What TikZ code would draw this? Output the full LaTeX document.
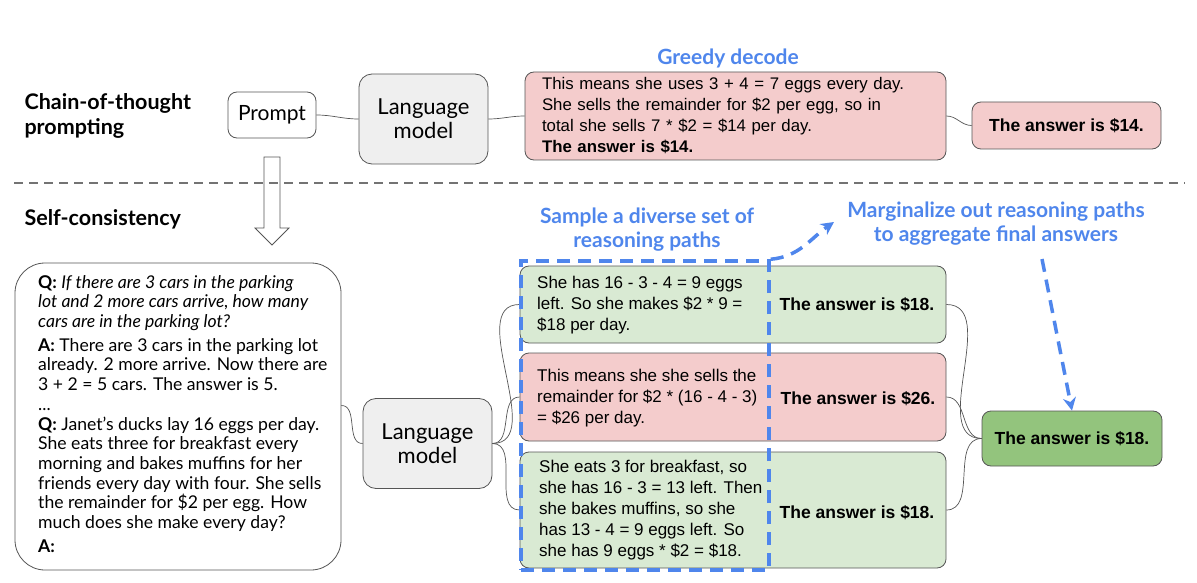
\documentclass[tikz,border=0pt]{standalone}
\usepackage{fontspec}
\setmainfont{Liberation Sans}
\newfontfamily\gsans{Lato}
\usetikzlibrary{arrows.meta}
\definecolor{pinkfill}{HTML}{F4CCCC}
\definecolor{greenfill}{HTML}{D9EAD3}
\definecolor{greenstrong}{HTML}{93C47D}
\definecolor{lmgray}{HTML}{EFEFEF}
\definecolor{edgegray}{HTML}{555555}
\definecolor{noteblue}{HTML}{4F86EC}
\begin{document}
\begin{tikzpicture}[x=1pt, y=-1pt]
    \tikzset{>=Stealth,
      heading/.style={anchor=west, align=left, font=\gsans\fontsize{21.5}{25}\selectfont\bfseries},
      note/.style={align=center, text=noteblue, font=\gsans\fontsize{21}{24}\selectfont\bfseries},
      card/.style={draw=edgegray, line width=0.8pt, rounded corners=9pt, inner sep=0pt},
      lmbox/.style={card, fill=lmgray, rounded corners=13pt, minimum width=129, minimum height=90,
        align=center, font=\gsans\fontsize{22}{24}\selectfont},
      reason/.style={anchor=west, align=left, inner sep=0pt, font=\fontsize{17}{21}\selectfont},
      answer/.style={font=\fontsize{17.5}{19}\selectfont\bfseries},
      wire/.style={draw=edgegray, line width=0.7pt},
      bluedash/.style={draw=noteblue, line width=3.5pt, dash pattern=on 13pt off 8pt}}
    \useasboundingbox (0,0) rectangle (1197,583);
    % chain-of-thought row
    \node[heading] (cotlabel) at (21,116) {Chain-of-thought\\prompting};
    \node[card, fill=white, minimum width=88, minimum height=46, font=\gsans\fontsize{21}{22}\selectfont] (prompt) at (272,115) {Prompt};
    \node[lmbox] (lmtop) at (423.5,119) {Language\\model};
    \node[card, fill=pinkfill, text width=387, inner xsep=17pt, minimum height=88, align=left,
      font=\fontsize{16.8}{21}\selectfont] (greedy) at (735.5,116)
      {This means she uses 3 + 4 = 7 eggs every day.\\She sells the remainder for \$2 per egg, so in\\total she sells 7 * \$2 = \$14 per day.\\\textbf{The answer is \$14.}};
    \node[card, fill=pinkfill, minimum width=189, minimum height=47, answer] (greedyans) at (1066.5,125.5) {The answer is \$14.};
    \node[note] (greedylabel) at (728,58) {Greedy decode};
    \draw[wire] (prompt.east) to[out=0, in=180] (lmtop.west);
    \draw[wire] (lmtop.east) to[out=0, in=180] (greedy.west);
    \draw[wire] (greedy.east) to[out=0, in=180] (greedyans.west);
    % separator and hollow arrow
    \draw[draw=gray!90!black, line width=2pt, dash pattern=on 9pt off 6pt] (14,183) -- (1185,183);
    \draw[line width=0.8pt, draw=edgegray] (264,157) -- (264,228) -- (255,228) -- (272,245) -- (289,228) -- (280,228) -- (280,157) -- cycle;
    % self-consistency row
    \node[heading] (sclabel) at (21,219) {Self-consistency};
    \node[card, fill=white, rounded corners=30pt, minimum width=326, minimum height=307] (fewshot) at (178,416.5) {};
    \node[anchor=north west, align=left, inner sep=0pt, font=\gsans\fontsize{17.6}{19.7}\selectfont] (fewshottext) at (38,275)
      {\textbf{Q:} \textit{If there are 3 cars in the parking}\\\textit{lot and 2 more cars arrive, how many}\\\textit{cars are in the parking lot?}\\[4pt]
       \textbf{A:} There are 3 cars in the parking lot\\already. 2 more arrive. Now there are\\3 + 2 = 5 cars. The answer is 5.\\
       ...\\
       \textbf{Q:} Janet’s ducks lay 16 eggs per day.\\She eats three for breakfast every\\morning and bakes muffins for her\\friends every day with four. She sells\\the remainder for \$2 per egg. How\\much does she make every day?\\[4pt]
       \textbf{A:}};
    \node[lmbox] (lmbottom) at (427.5,443.5) {Language\\model};
    \node[card, fill=greenfill, minimum width=426, minimum height=77] (pathA) at (733,304.5) {};
    \node[card, fill=pinkfill, minimum width=426, minimum height=88] (pathB) at (733,397) {};
    \node[card, fill=greenfill, minimum width=426, minimum height=116] (pathC) at (733,510) {};
    \node[reason] (reasonA) at (537,305) {She has 16 - 3 - 4 = 9 eggs\\left. So she makes \$2 * 9 =\\\$18 per day.};
    \node[reason] (reasonB) at (537,398) {This means she she sells the\\remainder for \$2 * (16 - 4 - 3)\\= \$26 per day.};
    \node[reason] (reasonC) at (539,510) {She eats 3 for breakfast, so\\she has 16 - 3 = 13 left. Then\\she bakes muffins, so she\\has 13 - 4 = 9 eggs left. So\\she has 9 eggs * \$2 = \$18.};
    \node[answer] (ansA) at (857,305) {The answer is \$18.};
    \node[answer] (ansB) at (858,399) {The answer is \$26.};
    \node[answer] (ansC) at (857,513) {The answer is \$18.};
    \node[card, fill=greenstrong, minimum width=180, minimum height=55, answer] (final) at (1072,438.5) {The answer is \$18.};
    \draw[wire] ([yshift=11pt]fewshot.east) to[out=0, in=180] (lmbottom.west);
    \foreach \p in {pathA, pathB, pathC} {
      \draw[wire] (lmbottom.east) to[out=0, in=180] (\p.west);
      \draw[wire] (\p.east) to[out=0, in=180] (final.west);
    }
    % sampled paths frame and notes
    \node[bluedash, minimum width=248, minimum height=309, inner sep=0pt] (frame) at (645,415.5) {};
    \node[note] (samplelabel) at (647,230) {Sample a diverse set of\\reasoning paths};
    \node[note] (marglabel) at (996,224) {Marginalize out reasoning paths\\to aggregate final answers};
    \coordinate (margtip) at (834,222);
    \coordinate (margfoot) at (1042,259);
    \draw[bluedash, ->, arrows={-Stealth[length=13pt, width=13pt]}] (frame.north east) to[out=5, in=-145] (margtip);
    \draw[bluedash, ->, arrows={-Stealth[length=13pt, width=13pt]}] (margfoot) -- (final.north);
\end{tikzpicture}
\end{document}
